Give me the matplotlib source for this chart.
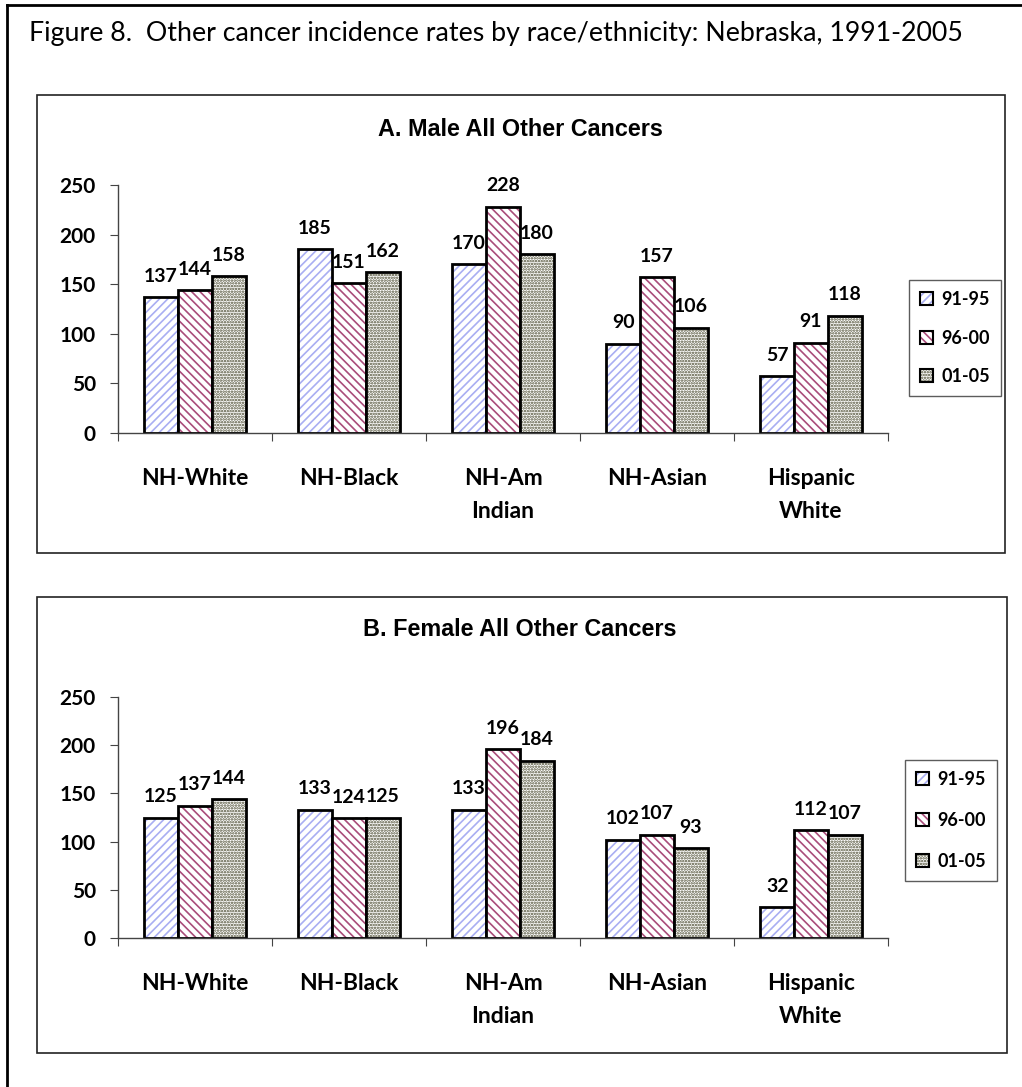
import numpy as np
import matplotlib.pyplot as plt
from matplotlib.patches import Rectangle
from matplotlib.lines import Line2D

plt.rcParams['hatch.linewidth'] = 1.2

groups = ['NH-White', 'NH-Black', 'NH-Am\nIndian', 'NH-Asian', 'Hispanic\nWhite']
periods = ['91-95', '96-00', '01-05']

male_91_95 = [137, 185, 170, 90, 57]
male_96_00 = [144, 151, 228, 157, 91]
male_01_05 = [158, 162, 180, 106, 118]

female_91_95 = [125, 133, 133, 102, 32]
female_96_00 = [137, 124, 196, 107, 112]
female_01_05 = [144, 125, 184, 93, 107]

hatches = ['////', '\\\\\\\\', '......']
hatch_cols = ['#a9aef2', '#a94d7a', '#4d4d33']

W, H = 1022, 1087
fig = plt.figure(figsize=(W / 100, H / 100), dpi=100)


def fx(px):
    return px / W


def fy(py):
    return 1 - py / H


# page frame (only top and left edges fall inside the image)
fig.lines.append(Line2D([fx(7), 1], [fy(5), fy(5)], transform=fig.transFigure, color='black', lw=2))
fig.lines.append(Line2D([fx(7), fx(7)], [fy(5), 0], transform=fig.transFigure, color='black', lw=2))

# chart frames
for y0, y1, x1 in [(95, 553, 1005), (597, 1053, 1007)]:
    fig.patches.append(Rectangle((fx(37), fy(y1)), fx(x1) - fx(37), fy(y0) - fy(y1),
                                 transform=fig.transFigure, fill=False, lw=1.2, ec='#222222'))

fig.text(fx(29), fy(34), 'Figure 8.  Other cancer incidence rates by race/ethnicity: Nebraska, 1991-2005',
         fontsize=19.3, family='Lato', va='center', ha='left')


def panel(rect, title, series, title_y, leg_box, leg_space, leg_pad):
    ax = fig.add_axes(rect)
    x = np.arange(len(groups))
    w = 0.22
    for i, vals in enumerate(series):
        pos = x + (i - 1) * w
        ax.bar(pos, vals, w, color='white', edgecolor=hatch_cols[i], hatch=hatches[i], lw=0)
        bars = ax.bar(pos, vals, w, fill=False, edgecolor='black', lw=2)
        for b, v in zip(bars, vals):
            ax.annotate(str(v), (b.get_x() + b.get_width() / 2, v), xytext=(0, 9),
                        textcoords='offset points', ha='center', va='bottom',
                        fontsize=14, fontweight='bold', family='Lato')
    ax.set_xlim(-0.5, len(groups) - 0.5)
    ax.set_ylim(0, 250)
    ax.set_yticks(range(0, 251, 50))
    ax.set_xticks(np.arange(len(groups) + 1) - 0.5)
    ax.set_xticklabels([])
    ax.set_xticks(x, minor=True)
    ax.set_xticklabels(groups, minor=True, fontsize=16.5, fontweight='bold', family='Lato',
                       linespacing=1.7)
    ax.tick_params(axis='x', which='minor', length=0, pad=25)
    ax.tick_params(axis='x', which='major', length=6, direction='out', color='#444444')
    ax.tick_params(axis='y', length=6, direction='out', labelsize=15, pad=10, color='#444444')
    for t in ax.get_yticklabels():
        t.set_fontweight('bold')
        t.set_family('Lato')
    for s in ['top', 'right']:
        ax.spines[s].set_visible(False)
    for s in ['left', 'bottom']:
        ax.spines[s].set_linewidth(1.0)
        ax.spines[s].set_color('#444444')

    fig.text(fx(520), fy(title_y), title, ha='center', va='center',
             fontsize=16.8, fontweight='bold', family='Liberation Sans')

    handles = []
    for i in range(3):
        fillp = Rectangle((0, 0), 1, 1, facecolor='white', edgecolor=hatch_cols[i],
                          hatch=hatches[i], lw=0)
        edgep = Rectangle((0, 0), 1, 1, fill=False, edgecolor='black', lw=1.5)
        handles.append((fillp, edgep))
    leg = fig.legend(handles, periods, loc='upper left',
                     bbox_to_anchor=(fx(leg_box[0]), fy(leg_box[1])),
                     frameon=True, fancybox=False, edgecolor='#333333',
                     handlelength=0.75, handleheight=0.75, handletextpad=0.45,
                     labelspacing=leg_space, borderpad=leg_pad, borderaxespad=0,
                     prop={'family': 'Lato', 'weight': 'bold', 'size': 13})
    leg.get_frame().set_linewidth(1.0)
    return ax


panel([fx(118), fy(433), fx(888) - fx(118), fy(185) - fy(433)], 'A. Male All Other Cancers',
      [male_91_95, male_96_00, male_01_05], 130, (909, 280), 1.2, 0.6)
panel([fx(118), fy(938), fx(888) - fx(118), fy(697) - fy(938)], 'B. Female All Other Cancers',
      [female_91_95, female_96_00, female_01_05], 630, (905, 760), 1.33, 0.6)

fig.savefig('out.png', dpi=100)
